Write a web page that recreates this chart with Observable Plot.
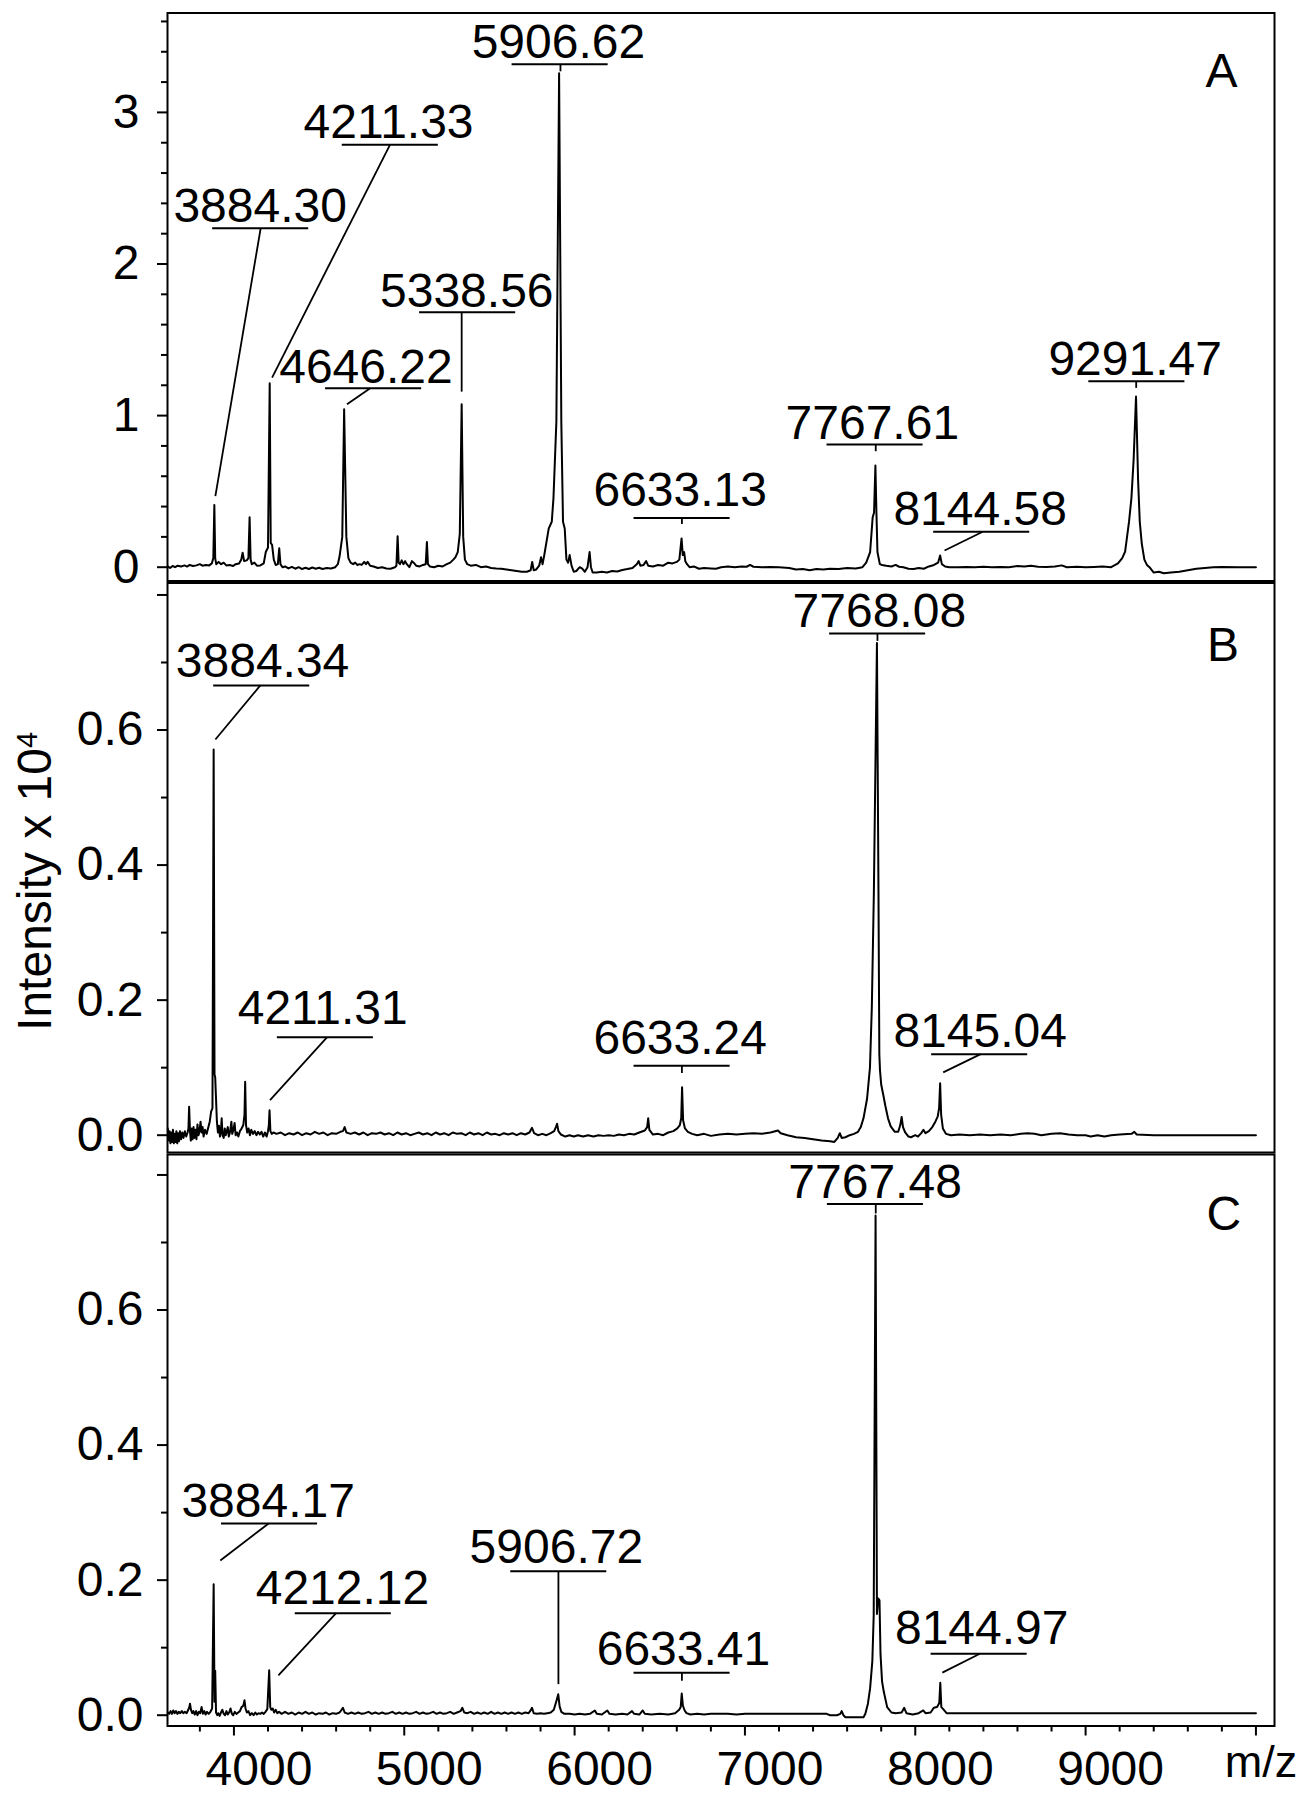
<!DOCTYPE html>
<html>
<head>
<meta charset="utf-8">
<script src="https://cdn.jsdelivr.net/npm/d3@7"></script>
<script src="https://cdn.jsdelivr.net/npm/@observablehq/plot@0.6"></script>
<style>
  html, body { margin: 0; padding: 0; background: #fff; }
  #chart { width: 1306px; height: 1793px; }
</style>
</head>
<body>
<div id="chart"></div>
<script>
// ---------------- DATA (m/z, intensity x 10^4) ----------------
const spectrumA = [
[3612,0.005],[3625,-0.005],[3640,0.008],[3655,0.0],[3670,0.01],[3690,0.005],[3710,0.012],[3725,0.004],[3740,0.015],[3760,0.008],[3780,0.012],[3800,0.02],[3815,0.01],[3835,0.015],[3855,0.012],[3870,0.025],[3879,0.06],[3885,0.41],[3890,0.06],[3896,0.02],[3910,0.035],[3925,0.02],[3940,0.03],[3955,0.012],[3975,0.015],[3995,0.008],[4010,0.02],[4030,0.025],[4043,0.05],[4051,0.096],[4060,0.04],[4075,0.045],[4085,0.06],[4092,0.33],[4098,0.05],[4105,0.02],[4120,0.03],[4135,0.01],[4155,0.012],[4175,0.025],[4187,0.1],[4200,0.13],[4210,1.214],[4216,0.16],[4224,0.147],[4234,0.05],[4245,0.015],[4258,0.02],[4266,0.125],[4273,0.02],[4285,0.0],[4300,0.005],[4320,-0.008],[4340,0.002],[4360,-0.01],[4380,0.0],[4400,-0.012],[4420,-0.004],[4440,-0.012],[4460,-0.002],[4480,-0.01],[4500,-0.004],[4520,-0.012],[4545,-0.005],[4570,-0.008],[4595,0.0],[4610,0.02],[4620,0.07],[4636,0.2],[4647,1.042],[4660,0.2],[4672,0.06],[4685,0.03],[4700,0.02],[4712,0.03],[4725,0.015],[4738,0.02],[4750,0.015],[4765,0.035],[4775,0.02],[4785,0.035],[4800,0.01],[4820,0.005],[4845,-0.005],[4870,0.0],[4895,-0.008],[4920,-0.01],[4945,0.0],[4954,0.01],[4961,0.205],[4967,0.03],[4975,0.02],[4985,0.045],[4995,0.02],[5005,0.04],[5015,0.02],[5030,0.0],[5045,0.04],[5055,0.03],[5070,0.01],[5090,0.005],[5110,0.015],[5126,0.02],[5133,0.166],[5139,0.02],[5150,0.005],[5175,0.0],[5200,0.01],[5225,0.005],[5250,0.02],[5270,0.03],[5288,0.05],[5300,0.065],[5314,0.1],[5326,0.22],[5337,1.075],[5346,0.2],[5356,0.05],[5370,0.02],[5390,0.01],[5420,0.015],[5450,0.0],[5480,0.005],[5510,-0.005],[5540,-0.008],[5570,-0.01],[5600,-0.015],[5630,-0.02],[5660,-0.025],[5690,-0.03],[5720,-0.03],[5742,-0.02],[5751,0.035],[5760,-0.02],[5775,-0.015],[5792,0.01],[5803,0.066],[5812,0.02],[5822,0.08],[5848,0.255],[5866,0.3],[5876,0.456],[5893,0.96],[5909,3.259],[5922,0.96],[5932,0.3],[5942,0.255],[5952,0.05],[5962,0.03],[5971,0.08],[5982,0.01],[5995,-0.03],[6010,-0.025],[6030,0.0],[6045,-0.01],[6060,-0.03],[6076,0.0],[6088,0.1],[6096,0.0],[6106,-0.035],[6130,-0.035],[6160,-0.03],[6190,-0.035],[6220,-0.025],[6250,-0.028],[6280,-0.018],[6310,-0.012],[6340,-0.005],[6365,0.02],[6376,0.04],[6386,0.01],[6405,0.015],[6420,0.04],[6432,0.01],[6460,0.005],[6490,0.015],[6520,0.01],[6550,0.03],[6575,0.025],[6600,0.035],[6615,0.05],[6628,0.19],[6635,0.08],[6643,0.1],[6650,0.04],[6660,0.02],[6675,0.0],[6700,0.005],[6730,-0.01],[6760,-0.005],[6800,-0.008],[6830,-0.01],[6860,0.0],[6900,0.005],[6940,0.0],[6980,0.005],[7010,0.003],[7030,0.015],[7050,0.003],[7100,0.0],[7150,0.002],[7200,0.0],[7260,-0.005],[7300,-0.015],[7340,-0.012],[7380,-0.02],[7420,-0.012],[7460,-0.015],[7500,-0.01],[7550,-0.012],[7600,-0.005],[7650,-0.008],[7690,0.0],[7712,0.03],[7735,0.1],[7750,0.33],[7758,0.36],[7766,0.671],[7772,0.36],[7778,0.1],[7792,0.02],[7805,0.015],[7830,0.01],[7860,0.005],[7885,0.015],[7905,0.003],[7930,0.0],[7960,-0.01],[7990,-0.012],[8020,-0.005],[8050,-0.01],[8080,0.005],[8110,0.015],[8134,0.03],[8146,0.077],[8156,0.02],[8175,0.005],[8200,0.0],[8250,0.0],[8300,0.002],[8350,0.0],[8400,0.003],[8450,0.0],[8500,0.002],[8550,0.0],[8600,0.008],[8640,0.005],[8680,0.01],[8720,0.003],[8770,0.002],[8820,0.004],[8860,0.012],[8890,0.0],[8950,0.003],[9000,0.0],[9050,0.002],[9100,0.005],[9150,0.0],[9190,0.025],[9215,0.06],[9232,0.103],[9255,0.3],[9269,0.456],[9282,0.71],[9296,1.126],[9308,0.58],[9318,0.3],[9330,0.154],[9345,0.05],[9360,0.015],[9375,0.0],[9400,-0.035],[9430,-0.03],[9460,-0.04],[9500,-0.035],[9550,-0.03],[9600,-0.02],[9650,-0.01],[9700,-0.005],[9750,0.0],[9800,0.002],[9900,0.0],[10000,0.0]
];

const spectrumB = [
[3612,0.01],[3617,-0.008],[3622,0.006],[3627,-0.012],[3632,0.004],[3637,-0.01],[3642,0.008],[3647,-0.012],[3652,0.002],[3657,-0.01],[3662,0.006],[3667,-0.012],[3672,0.003],[3677,-0.009],[3683,0.006],[3690,-0.006],[3697,0.004],[3704,-0.004],[3712,0.006],[3720,-0.002],[3728,0.004],[3733,0.01],[3737,0.042],[3742,0.006],[3747,-0.008],[3752,0.01],[3757,-0.006],[3763,0.012],[3768,-0.004],[3774,0.008],[3780,-0.006],[3786,0.016],[3792,0.0],[3798,0.006],[3804,0.02],[3810,0.004],[3816,0.012],[3822,-0.002],[3830,0.008],[3840,0.002],[3850,0.012],[3858,0.02],[3866,0.035],[3874,0.04],[3881,0.571],[3886,0.09],[3890,0.086],[3894,0.06],[3900,0.02],[3906,0.004],[3912,0.014],[3918,-0.002],[3924,0.008],[3928,0.025],[3933,0.0],[3940,-0.004],[3946,0.01],[3952,0.0],[3958,0.006],[3964,0.012],[3970,-0.002],[3978,0.006],[3985,0.02],[3990,0.002],[3997,0.008],[4004,0.018],[4010,0.0],[4018,0.004],[4026,-0.002],[4035,0.006],[4045,0.01],[4055,0.015],[4062,0.03],[4066,0.079],[4071,0.015],[4078,0.004],[4086,0.01],[4094,0.0],[4102,0.008],[4112,0.002],[4122,0.006],[4132,0.0],[4142,0.005],[4152,0.001],[4162,0.005],[4172,-0.002],[4182,0.004],[4192,-0.002],[4200,0.006],[4205,0.015],[4209,0.037],[4214,0.006],[4222,0.002],[4232,0.004],[4250,0.002],[4275,0.004],[4300,0.0],[4325,0.003],[4350,0.001],[4375,0.004],[4400,0.0],[4425,0.003],[4450,0.001],[4475,0.005],[4500,0.002],[4525,0.004],[4550,0.0],[4575,0.003],[4600,0.002],[4625,0.005],[4640,0.006],[4650,0.012],[4660,0.004],[4685,0.002],[4710,0.004],[4735,0.001],[4760,0.004],[4785,0.0],[4810,0.003],[4835,0.002],[4860,0.004],[4885,0.001],[4910,0.003],[4935,0.0],[4960,0.004],[4985,0.001],[5010,0.003],[5035,0.0],[5060,0.002],[5085,0.004],[5110,0.001],[5135,0.003],[5160,0.0],[5185,0.004],[5210,0.001],[5235,0.003],[5260,0.0],[5285,0.004],[5310,0.002],[5335,0.003],[5360,0.0],[5385,0.004],[5410,0.001],[5435,0.003],[5460,0.0],[5485,0.004],[5510,0.001],[5535,0.002],[5560,0.0],[5585,0.003],[5610,0.001],[5635,0.003],[5660,0.0],[5685,0.003],[5710,0.001],[5735,0.004],[5750,0.011],[5762,0.003],[5785,0.0],[5810,0.002],[5835,0.0],[5860,0.003],[5880,0.006],[5890,0.012],[5897,0.017],[5905,0.006],[5920,0.001],[5945,-0.002],[5970,0.0],[5995,-0.002],[6020,0.0],[6050,-0.002],[6080,0.0],[6110,-0.002],[6140,0.0],[6170,-0.001],[6200,0.0],[6230,-0.001],[6260,0.001],[6290,0.0],[6320,0.002],[6350,0.001],[6380,0.004],[6412,0.007],[6426,0.012],[6432,0.025],[6439,0.008],[6460,0.001],[6490,0.002],[6520,0.0],[6550,0.004],[6580,0.006],[6603,0.01],[6618,0.015],[6626,0.025],[6631,0.071],[6637,0.022],[6648,0.01],[6665,0.005],[6690,0.002],[6720,0.0],[6760,0.002],[6800,-0.001],[6850,0.001],[6900,0.002],[6950,0.001],[7000,0.002],[7050,0.003],[7100,0.002],[7150,0.004],[7194,0.007],[7210,0.003],[7250,0.0],[7300,-0.003],[7350,-0.004],[7400,-0.006],[7450,-0.008],[7500,-0.009],[7525,-0.01],[7545,-0.004],[7557,0.003],[7568,-0.004],[7590,-0.003],[7615,0.0],[7640,0.002],[7664,0.005],[7680,0.012],[7696,0.025],[7717,0.054],[7734,0.1],[7745,0.19],[7757,0.36],[7775,0.729],[7784,0.36],[7789,0.12],[7793,0.096],[7800,0.075],[7812,0.06],[7824,0.044],[7840,0.025],[7856,0.013],[7880,0.005],[7900,0.005],[7912,0.015],[7920,0.027],[7928,0.012],[7941,0.004],[7960,-0.002],[7975,-0.003],[8000,0.0],[8016,-0.002],[8035,0.003],[8048,0.008],[8060,0.003],[8080,0.006],[8100,0.012],[8118,0.02],[8132,0.028],[8140,0.04],[8146,0.077],[8152,0.03],[8162,0.01],[8180,0.002],[8210,0.0],[8260,0.001],[8320,0.0],[8380,0.001],[8440,0.0],[8500,0.001],[8560,0.0],[8620,0.002],[8660,0.003],[8700,0.002],[8740,0.0],[8800,0.002],[8850,0.003],[8900,0.001],[8950,0.0],[9000,0.0],[9030,-0.002],[9070,0.0],[9110,-0.002],[9150,0.0],[9200,0.001],[9270,0.002],[9286,0.005],[9300,0.001],[9400,0.0],[9500,0.0],[9600,0.0],[9700,0.0],[9800,0.0],[9900,0.0],[10000,0.0]
];

const spectrumC = [
[3612,0.004],[3620,0.002],[3628,0.006],[3636,0.002],[3644,0.007],[3652,0.003],[3660,0.006],[3668,0.002],[3676,0.005],[3685,0.003],[3694,0.006],[3703,0.003],[3712,0.005],[3722,0.003],[3732,0.008],[3738,0.012],[3742,0.017],[3748,0.008],[3755,0.003],[3762,0.006],[3770,0.001],[3778,0.006],[3786,0.0],[3794,0.005],[3802,0.003],[3810,0.012],[3818,0.002],[3826,0.006],[3834,0.001],[3842,0.005],[3852,0.002],[3862,0.005],[3872,0.01],[3881,0.194],[3886,0.02],[3890,0.066],[3895,0.004],[3902,0.0],[3908,0.003],[3916,-0.001],[3924,0.004],[3932,0.008],[3940,0.002],[3948,0.0],[3956,0.006],[3964,0.001],[3972,0.004],[3980,0.01],[3988,0.002],[3996,0.0],[4005,0.005],[4015,0.002],[4025,0.004],[4035,0.006],[4045,0.012],[4055,0.014],[4062,0.022],[4068,0.01],[4076,0.004],[4085,0.006],[4095,0.0],[4105,0.003],[4115,0.0],[4125,0.004],[4135,0.001],[4145,0.003],[4155,0.002],[4165,0.004],[4175,0.002],[4185,0.005],[4196,0.009],[4207,0.0665],[4213,0.012],[4220,0.008],[4228,0.01],[4236,0.004],[4245,0.008],[4255,0.003],[4265,0.005],[4280,0.002],[4300,0.005],[4320,0.002],[4340,0.004],[4360,0.001],[4380,0.004],[4400,0.002],[4420,0.005],[4440,0.002],[4460,0.004],[4480,0.001],[4500,0.003],[4520,0.002],[4540,0.004],[4560,0.001],[4580,0.003],[4600,0.002],[4620,0.004],[4632,0.008],[4640,0.011],[4650,0.004],[4670,0.002],[4690,0.004],[4710,0.002],[4730,0.004],[4750,0.002],[4770,0.003],[4790,0.005],[4810,0.002],[4830,0.004],[4850,0.002],[4870,0.004],[4890,0.002],[4910,0.003],[4930,0.005],[4950,0.002],[4970,0.004],[4990,0.002],[5010,0.004],[5030,0.002],[5050,0.003],[5070,0.005],[5090,0.002],[5110,0.004],[5130,0.002],[5150,0.003],[5170,0.005],[5190,0.002],[5210,0.004],[5230,0.002],[5250,0.003],[5270,0.005],[5290,0.002],[5310,0.004],[5330,0.006],[5341,0.011],[5352,0.004],[5370,0.003],[5390,0.005],[5410,0.002],[5430,0.004],[5450,0.002],[5470,0.004],[5490,0.002],[5510,0.005],[5530,0.002],[5550,0.004],[5570,0.002],[5590,0.004],[5610,0.002],[5630,0.004],[5650,0.002],[5670,0.004],[5690,0.002],[5710,0.004],[5730,0.003],[5742,0.007],[5750,0.011],[5760,0.003],[5780,0.002],[5800,0.003],[5820,0.002],[5840,0.003],[5860,0.004],[5878,0.008],[5892,0.02],[5904,0.031],[5912,0.013],[5922,0.005],[5940,0.002],[5970,0.002],[6000,0.001],[6030,0.002],[6060,0.001],[6090,0.002],[6119,0.007],[6130,0.002],[6160,0.001],[6192,0.007],[6205,0.002],[6240,0.001],[6280,0.002],[6310,0.001],[6337,0.006],[6350,0.002],[6380,0.001],[6400,0.007],[6412,0.002],[6450,0.001],[6500,0.002],[6550,0.001],[6590,0.003],[6614,0.008],[6623,0.012],[6629,0.032],[6636,0.014],[6646,0.007],[6657,0.003],[6680,0.001],[6720,0.002],[6760,0.001],[6800,0.002],[6850,0.002],[6900,0.002],[6950,0.001],[7000,0.002],[7100,0.002],[7200,0.002],[7300,0.002],[7400,0.002],[7480,0.002],[7500,0.0],[7540,0.0],[7560,0.002],[7568,0.006],[7578,0.0],[7590,-0.003],[7640,-0.003],[7696,-0.003],[7707,0.002],[7722,0.017],[7735,0.04],[7748,0.08],[7756,0.148],[7767,0.74],[7775,0.15],[7782,0.173],[7790,0.17],[7796,0.09],[7805,0.05],[7815,0.035],[7835,0.012],[7860,0.004],[7885,0.003],[7920,0.004],[7935,0.011],[7948,0.003],[7985,0.001],[8020,0.003],[8047,0.007],[8060,0.003],[8090,0.004],[8109,0.011],[8128,0.012],[8141,0.018],[8147,0.048],[8153,0.012],[8164,0.009],[8184,0.003],[8250,0.003],[8400,0.003],[8600,0.003],[8800,0.003],[9000,0.003],[9200,0.003],[9400,0.003],[9600,0.003],[9800,0.003],[10000,0.003]
];

// peak annotations: text anchor (tx, ty), underline centre (ux, uy), leader start x (sx) and end (ex, ey)
const labelsA = [
  {label: "3884.30", tx: 4154, ty: 2.279, ux: 4157, uy: 2.236, sx: 4157, ex: 3891, ey: 0.469},
  {label: "4211.33", tx: 4908, ty: 2.829, ux: 4918, uy: 2.786, sx: 4916, ex: 4224, ey: 1.251},
  {label: "4646.22", tx: 4775, ty: 1.214, ux: 4820, uy: 1.181, sx: 4800, ex: 4664, ey: 1.075},
  {label: "5338.56", tx: 5367, ty: 1.719, ux: 5372, uy: 1.681, sx: 5337, ex: 5337, ey: 1.158},
  {label: "5906.62", tx: 5905, ty: 3.360, ux: 5915, uy: 3.317, sx: 5917, ex: 5917, ey: 3.271},
  {label: "6633.13", tx: 6620, ty: 0.406, ux: 6631, uy: 0.325, sx: 6630, ex: 6630, ey: 0.285},
  {label: "7767.61", tx: 7748, ty: 0.848, ux: 7764, uy: 0.810, sx: 7768, ex: 7768, ey: 0.765},
  {label: "8144.58", tx: 8381, ty: 0.280, ux: 8390, uy: 0.234, sx: 8396, ex: 8172, ey: 0.110},
  {label: "9291.47", tx: 9291, ty: 1.265, ux: 9301, uy: 1.226, sx: 9297, ex: 9297, ey: 1.183}
];
const labelsB = [
  {label: "3884.34", tx: 4168, ty: 0.678, ux: 4163, uy: 0.666, sx: 4155, ex: 3891, ey: 0.586},
  {label: "4211.31", tx: 4521, ty: 0.165, ux: 4537, uy: 0.145, sx: 4546, ex: 4212, ey: 0.052},
  {label: "6633.24", tx: 6620, ty: 0.120, ux: 6631, uy: 0.103, sx: 6630, ex: 6630, ey: 0.092},
  {label: "7768.08", tx: 7789, ty: 0.752, ux: 7779, uy: 0.743, sx: 7778, ex: 7778, ey: 0.732},
  {label: "8145.04", tx: 8381, ty: 0.131, ux: 8378, uy: 0.120, sx: 8384, ex: 8164, ey: 0.093}
];
const labelsC = [
  {label: "3884.17", tx: 4201, ty: 0.294, ux: 4209, uy: 0.284, sx: 4204, ex: 3920, ey: 0.229},
  {label: "4212.12", tx: 4637, ty: 0.165, ux: 4642, uy: 0.151, sx: 4600, ex: 4261, ey: 0.059},
  {label: "5906.72", tx: 5893, ty: 0.225, ux: 5907, uy: 0.213, sx: 5905, ex: 5905, ey: 0.046},
  {label: "6633.41", tx: 6639, ty: 0.075, ux: 6631, uy: 0.063, sx: 6630, ex: 6630, ey: 0.051},
  {label: "7767.48", tx: 7764, ty: 0.766, ux: 7766, uy: 0.757, sx: 7768, ex: 7768, ey: 0.743},
  {label: "8144.97", tx: 8390, ty: 0.105, ux: 8375, uy: 0.091, sx: 8379, ex: 8159, ey: 0.063}
];

const yMajorA = [0, 1, 2, 3];
const yMinorA = [0.2,0.4,0.6,0.8,1.2,1.4,1.6,1.8,2.2,2.4,2.6,2.8,3.2,3.4,3.6];
const yMajorBC = [0, 0.2, 0.4, 0.6, 0.8];
const yLabelBC = [0, 0.2, 0.4, 0.6];
const yMinorBC = [0.1, 0.3, 0.5, 0.7];
const xMajor = [4000, 5000, 6000, 7000, 8000, 9000, 10000];
const xLabels = [4000, 5000, 6000, 7000, 8000, 9000];
const xMinor = [3800,4200,4400,4600,4800,5200,5400,5600,5800,6200,6400,6600,6800,7200,7400,7600,7800,8200,8400,8600,8800,9200,9400,9600,9800];
const xUnit = [{value: 10000, text: "m/z"}];
const yTitle = "Intensity x 10\u2074";

// ---------------- LAYOUT ----------------
const W = 1306, H = 1793;
const FONT = "'Liberation Sans', Arial, Helvetica, sans-serif";
const X_DOMAIN = [3610, 10109];
const HALF_UNDERLINE = 282; // in m/z units
const FS = 48;

function panel({spectrum, labels, letter, yDomain, top, bottom, yMajor, yMinor, yLabelTicks, yFormat, labelPad, letterDx, letterDy, extra = []}) {
  const data = spectrum.map(([mz, i]) => ({mz, i}));
  return Plot.plot({
    width: W, height: H,
    marginLeft: 167, marginRight: 32, marginTop: top, marginBottom: H - bottom,
    style: {background: "transparent", fontFamily: FONT, color: "black", overflow: "visible"},
    x: {domain: X_DOMAIN, axis: null},
    y: {domain: yDomain, axis: null, label: null},
    marks: [
      Plot.frame({stroke: "black", strokeWidth: 2}),
      Plot.axisY(yMinor, {anchor: "left", tickSize: 6, strokeWidth: 2, fill: "none", label: null}),
      Plot.axisY(yMajor, {anchor: "left", tickSize: 10, strokeWidth: 2, fill: "none", label: null}),
      Plot.axisY(yLabelTicks, {anchor: "left", tickSize: 0, tickPadding: labelPad, tickFormat: yFormat, fontSize: FS, fill: "black", label: null}),
      Plot.line(data, {x: "mz", y: "i", stroke: "black", strokeWidth: 2}),
      Plot.ruleY(labels, {y: "uy", x1: d => d.ux - HALF_UNDERLINE, x2: d => d.ux + HALF_UNDERLINE, stroke: "black", strokeWidth: 2}),
      Plot.link(labels, {x1: "sx", y1: "uy", x2: "ex", y2: "ey", stroke: "black", strokeWidth: 1.8}),
      Plot.text(labels, {x: "tx", y: "ty", text: "label", lineAnchor: "bottom", textAnchor: "middle", fontSize: FS, fill: "black"}),
      Plot.text([letter], {text: d => d, frameAnchor: "top-right", dx: letterDx, dy: letterDy, textAnchor: "middle", lineAnchor: "bottom", fontSize: FS, fill: "black"}),
      ...extra
    ]
  });
}

const svgA = panel({
  spectrum: spectrumA, labels: labelsA, letter: "A",
  yDomain: [-0.0910, 3.6557], top: 12.5, bottom: 580.5,
  yMajor: yMajorA, yMinor: yMinorA, yLabelTicks: yMajorA, yFormat: d3.format("d"), labelPad: 28,
  letterDx: -53, letterDy: 73.5
});

const svgB = panel({
  spectrum: spectrumB, labels: labelsB, letter: "B",
  yDomain: [-0.02562, 0.81771], top: 582.5, bottom: 1152,
  yMajor: yMajorBC, yMinor: yMinorBC, yLabelTicks: yLabelBC, yFormat: d3.format(".1f"), labelPad: 24,
  letterDx: -51.6, letterDy: 77.8,
  extra: [
    Plot.text([yTitle], {text: d => d, frameAnchor: "left", rotate: -90, dx: -116.5, dy: 13.7, textAnchor: "middle", lineAnchor: "bottom", fontSize: FS, fill: "black"})
  ]
});

const svgC = panel({
  spectrum: spectrumC, labels: labelsC, letter: "C",
  yDomain: [-0.01599, 0.83030], top: 1154, bottom: 1725.5,
  yMajor: yMajorBC, yMinor: yMinorBC, yLabelTicks: yLabelBC, yFormat: d3.format(".1f"), labelPad: 24,
  letterDx: -50.6, letterDy: 75,
  extra: [
    Plot.axisX(xMinor, {anchor: "bottom", tickSize: 6, strokeWidth: 2, fill: "none", label: null}),
    Plot.axisX(xMajor, {anchor: "bottom", tickSize: 10, strokeWidth: 2, fill: "none", label: null}),
    Plot.text(xLabels, {x: d => d, text: d => String(d), frameAnchor: "bottom", lineAnchor: "bottom", textAnchor: "middle", dx: 25, dy: 58.5, fontSize: FS, fill: "black"}),
    Plot.text(xUnit, {x: "value", text: "text", frameAnchor: "bottom", lineAnchor: "bottom", textAnchor: "middle", dx: 5, dy: 51, fontSize: 45, fill: "black"})
  ]
});

// merge the three panels into one SVG
for (const s of [svgB, svgC]) {
  for (const n of Array.from(s.childNodes)) {
    if (n.nodeName.toLowerCase() !== "style") svgA.appendChild(n);
  }
}
document.getElementById("chart").appendChild(svgA);

// superscript exponent in the y title
d3.select(svgA).selectAll("text")
  .filter(function () { return this.textContent === yTitle; })
  .each(function () {
    const t = d3.select(this);
    t.text("Intensity x 10");
    t.append("tspan").attr("dy", -14).attr("font-size", 29).text("4");
  });
</script>
</body>
</html>
